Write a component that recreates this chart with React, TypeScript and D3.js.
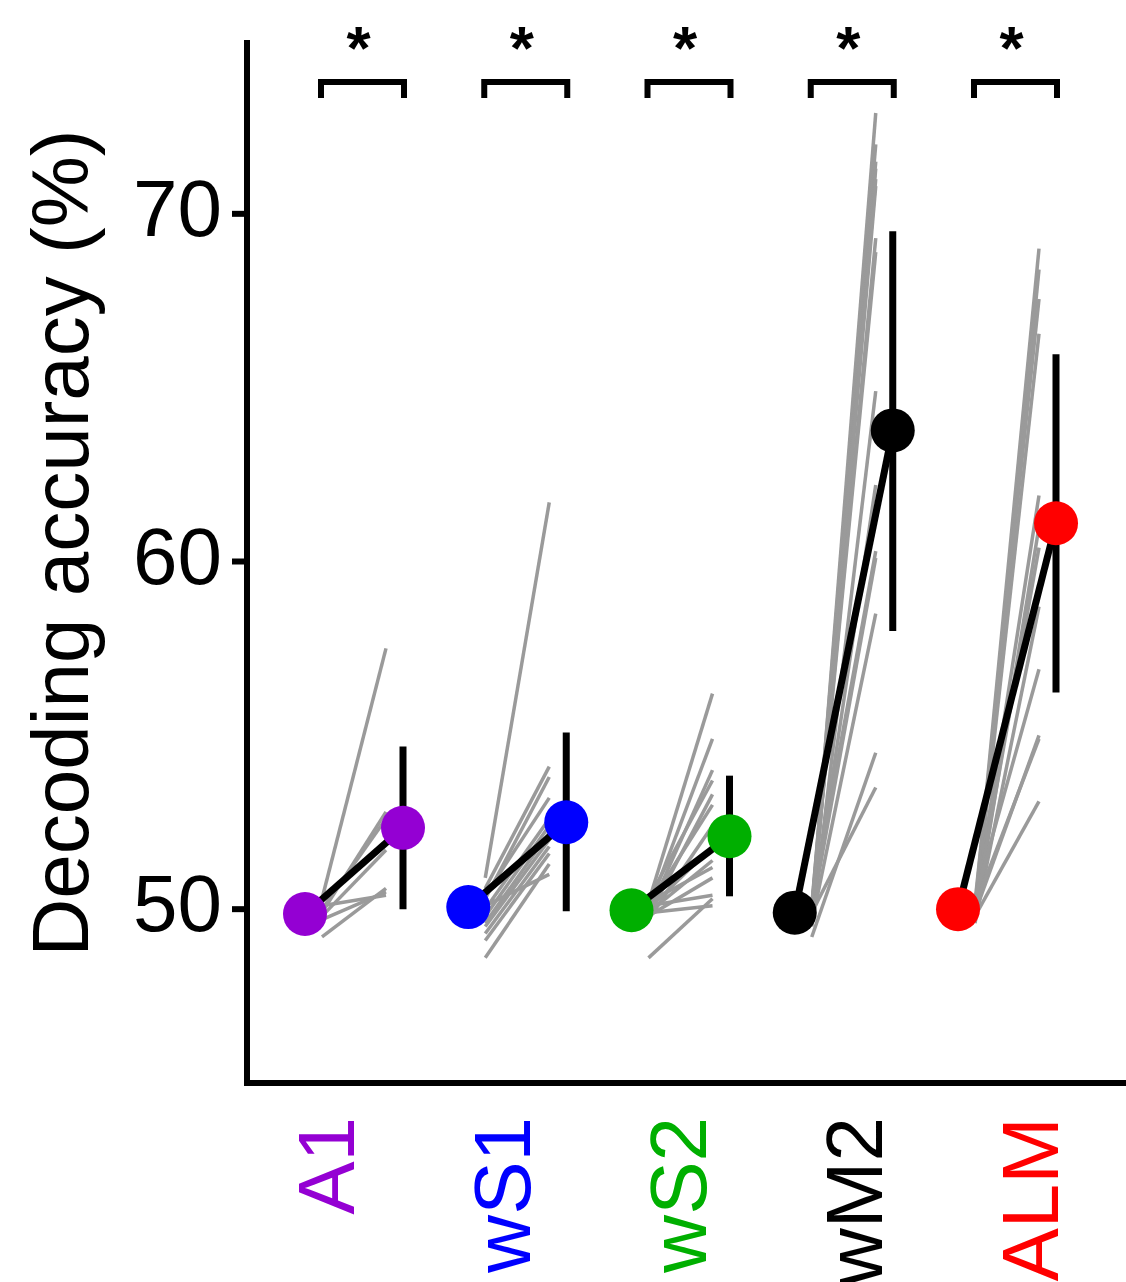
import React from "react";
import * as d3 from "d3";

// ---------- data ----------
const categories = ["A1", "wS1", "wS2", "wM2", "ALM"];
const categoryColors = ["#9400D3", "#0000FF", "#00AF00", "#000000", "#FF0000"];

const meanPre = [49.86, 50.06, 49.97, 49.9, 50.0];
const meanPost = [52.34, 52.5, 52.1, 63.77, 61.1];
const errLow = [50.0, 49.94, 50.37, 58.0, 56.23];
const errHigh = [54.68, 55.08, 53.84, 69.5, 65.96];

const a1Pre = [50.3, 49.9, 50.0, 49.8, 49.2, 49.7, 50.1];
const a1Post = [57.5, 52.8, 52.6, 51.7, 50.6, 50.5, 50.4];

const ws1Pre = [50.9, 50.6, 50.3, 50.4, 50.0, 49.8, 49.6, 49.5, 49.3, 49.1, 48.6, 50.1];
const ws1Post = [61.7, 54.1, 53.8, 53.2, 52.6, 52.4, 52.2, 52.0, 51.8, 51.6, 51.3, 51.0];

const ws2Pre = [50.2, 50.0, 49.9, 50.3, 49.8, 50.1, 49.7, 50.0, 49.9, 50.2, 49.8, 48.6, 50.1, 49.9];
const ws2Post = [56.2, 54.9, 54.0, 53.7, 53.3, 53.0, 52.4, 51.8, 51.4, 51.2, 50.9, 50.3, 50.4, 50.1];

const wm2Pre = [49.8, 50.0, 49.6, 49.9, 50.1, 49.7, 50.0, 49.5, 49.8, 50.2, 49.9, 49.6, 49.2, 49.9, 50.0];
const wm2Post = [72.9, 72.0, 71.5, 71.3, 71.0, 70.8, 69.3, 64.9, 62.2, 60.3, 60.1, 58.5, 54.5, 53.5, 68.9];

const almPre = [50.0, 49.8, 50.2, 49.9, 50.1, 49.7, 50.0, 49.6, 50.3, 49.9, 50.1, 49.8];
const almPost = [69.0, 68.4, 67.55, 66.55, 61.9, 61.0, 60.4, 58.7, 56.9, 55.0, 54.9, 53.1];

const sessionPre = [a1Pre, ws1Pre, ws2Pre, wm2Pre, almPre];
const sessionPost = [a1Post, ws1Post, ws2Post, wm2Post, almPost];

const sigMarks = ["*", "*", "*", "*", "*"];
const yTicks = [50, 60, 70];
const yLabel = "Decoding accuracy (%)";

// ---------- layout ----------
const W = 1126;
const H = 1282;
const FONT = "'Liberation Sans', Arial, Helvetica, sans-serif";
const spineX = 247;
const axisY = 1083;
const pairGap = 98;
const grayInset = 17;

export default function App() {
  const y = d3.scaleLinear().domain([45, 75]).range([axisY, 40]);
  const xLeft = d3.scalePoint<string>().domain(categories).range([305, 958]);
  const xLabel = d3.scalePoint<string>().domain(categories).range([354, 1058]);

  return (
    <svg
      width={W}
      height={H}
      style={{ position: "absolute", left: 0, top: 0, background: "#fff" }}
      fontFamily={FONT}
    >
      <rect x={0} y={0} width={W} height={H} fill="#fff" />

      {/* gray session lines */}
      {categories.map((c, i) => {
        const x0 = (xLeft(c) as number) + grayInset;
        const x1 = (xLeft(c) as number) + pairGap - grayInset;
        return (
          <g key={"g" + c}>
            {sessionPre[i].map((v, k) => (
              <line
                key={k}
                x1={x0}
                y1={y(v)}
                x2={x1}
                y2={y(sessionPost[i][k])}
                stroke="#9a9a9a"
                strokeWidth={3.5}
              />
            ))}
          </g>
        );
      })}

      {/* means, error bars, dots */}
      {categories.map((c, i) => {
        const xl = xLeft(c) as number;
        const xr = xl + pairGap;
        return (
          <g key={"m" + c}>
            <line x1={xr} x2={xr} y1={y(errLow[i])} y2={y(errHigh[i])} stroke="#000" strokeWidth={7} />
            <line x1={xl} y1={y(meanPre[i])} x2={xr} y2={y(meanPost[i])} stroke="#000" strokeWidth={7} />
            <circle cx={xl} cy={y(meanPre[i])} r={22} fill={categoryColors[i]} />
            <circle cx={xr} cy={y(meanPost[i])} r={22} fill={categoryColors[i]} />
          </g>
        );
      })}

      {/* significance brackets */}
      {categories.map((c, i) => {
        const xl = (xLeft(c) as number) + grayInset - 1;
        const xr = (xLeft(c) as number) + pairGap + 1;
        return (
          <g key={"s" + c}>
            <path
              d={`M${xl},98 L${xl},82 L${xr},82 L${xr},98`}
              fill="none"
              stroke="#000"
              strokeWidth={6}
              strokeLinejoin="miter"
            />
            <text
              x={(xl + xr) / 2 - 4}
              y={69}
              textAnchor="middle"
              fontSize={62}
              fontWeight="bold"
              fill="#000"
            >
              {sigMarks[i]}
            </text>
          </g>
        );
      })}

      {/* axes */}
      <line x1={spineX} x2={spineX} y1={40} y2={axisY + 3} stroke="#000" strokeWidth={6} />
      <line x1={spineX - 3} x2={W} y1={axisY} y2={axisY} stroke="#000" strokeWidth={6} />
      {yTicks.map((t) => (
        <g key={"t" + t}>
          <line x1={232} x2={spineX} y1={y(t)} y2={y(t)} stroke="#000" strokeWidth={6} />
          <text x={222} y={y(t) + 22} textAnchor="end" fontSize={80} fill="#000">
            {t}
          </text>
        </g>
      ))}
      <text
        transform={`translate(88,543) rotate(-90)`}
        textAnchor="middle"
        fontSize={80}
        fill="#000"
      >
        {yLabel}
      </text>

      {/* category labels */}
      {categories.map((c, i) => (
        <text
          key={"l" + c}
          transform={`translate(${xLabel(c)},1117) rotate(-90)`}
          textAnchor="end"
          fontSize={80}
          fill={categoryColors[i]}
        >
          {c}
        </text>
      ))}
    </svg>
  );
}
